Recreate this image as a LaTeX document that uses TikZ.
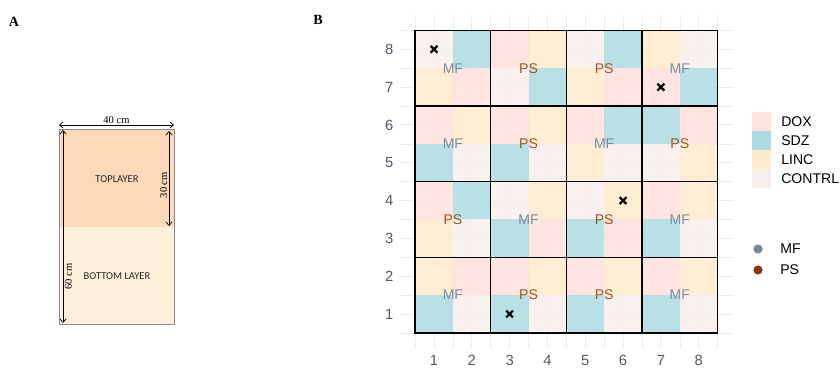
\documentclass[tikz,border=0pt]{standalone}
\usepackage{fontspec}
\setmainfont{Liberation Serif}
\newfontfamily\plotfont{Liberation Sans}
\newfontfamily\layerfont{Carlito}
\usetikzlibrary{arrows.meta, positioning, calc}
\definecolor{dox}{HTML}{FFE1DD}
\definecolor{sdz}{HTML}{ADDBE1}
\definecolor{linc}{HTML}{FFEBCD}
\definecolor{contrl}{HTML}{F8EFED}
\definecolor{toplayer}{HTML}{FDD9BA}
\definecolor{bottomlayer}{HTML}{FFF0DC}
\definecolor{mfcol}{HTML}{7B8D9E}
\definecolor{pscol}{HTML}{A5521E}
\definecolor{mfdot}{HTML}{778899}
\definecolor{psdot}{HTML}{8B3510}
\definecolor{axiscol}{HTML}{4F5A68}
\definecolor{gridcol}{HTML}{EBEBEB}
\tikzset{
  panel tag/.style={
    font=\bfseries\fontsize{10}{12}\selectfont, inner sep=0pt
  },
  box edge/.style={
    draw=black!45, line width=0.5pt
  },
  dim arrow/.style={
    {Straight Barb[length=2.6pt, width=4.5pt]}-{Straight Barb[length=2.6pt, width=4.5pt]},
    line width=0.5pt, draw=black
  },
  dim label/.style={
    font=\fontsize{7.5}{9}\selectfont, inner sep=1pt
  },
  layer label/.style={
    font=\layerfont\fontsize{7.5}{9}\selectfont, text=black!85
  },
  plot cell/.style={
    fill opacity=0.85
  },
  plot block/.style={
    draw=black, line width=0.9pt
  },
  grid major/.style={
    draw=gridcol, line width=0.7pt
  },
  grid minor/.style={
    draw=gridcol, line width=0.35pt
  },
  plot label/.style={
    font=\plotfont\fontsize{10}{12}\selectfont, inner sep=0pt
  },
  axis label/.style={
    font=\plotfont\fontsize{10.5}{12}\selectfont, text=axiscol, inner sep=1pt
  },
  cross mark/.style={
    draw=black, line width=1.6pt
  },
  legend key/.style={
    minimum size=19*0.025cm, inner sep=0pt, outer sep=0pt
  },
  legend text/.style={
    font=\plotfont\fontsize{10}{12}\selectfont, anchor=west, inner sep=0pt
  }
}

\begin{document}
\begin{tikzpicture}[x=0.025cm, y=-0.025cm]
  \useasboundingbox (0,0) rectangle (840,368);

  % panel A: the box with two layers
  \node (tag a) [panel tag] at (14,22) {A};
  \fill[toplayer] (59,129) rectangle (174,227);
  \fill[bottomlayer] (59,227) rectangle (174,324);
  \draw[box edge] (59,129) rectangle (174,324);
  \node (top layer) [layer label] at (117,179) {TOPLAYER};
  \node (bottom layer) [layer label] at (117,276) {BOTTOM LAYER};

  \coordinate (width left) at (59,125);
  \coordinate (width right) at (174,125);
  \coordinate (top a) at (169,131);
  \coordinate (top b) at (169,226);
  \coordinate (depth a) at (63,130);
  \coordinate (depth b) at (63,323);
  \draw[dim arrow] (width left) -- node[dim label, above] {40 cm} (width right);
  \draw[dim arrow] (top a) -- node[dim label, rotate=90, anchor=south, pos=0.57] {30 cm} (top b);
  \draw[dim arrow] (depth a) -- node[dim label, rotate=90, anchor=north, pos=0.76] {60 cm} (depth b);

  % panel B: the plot of the 8 x 8 field
  \node (tag b) [panel tag] at (318,20) {B};
  \begin{scope}[shift={(396.2,351.8)}, x=0.945cm, y=0.945cm]
    \foreach \g in {1,...,8} {
      \draw[grid major] (\g,0.1) -- (\g,8.9);
      \draw[grid major] (0.1,\g) -- (8.9,\g);
    }
    \foreach \g in {0.5,1.5,...,8.5} {
      \draw[grid minor] (\g,0.1) -- (\g,8.9);
      \draw[grid minor] (0.1,\g) -- (8.9,\g);
    }
    \foreach \cy/\row in {
      8/{contrl,sdz,dox,linc,contrl,sdz,linc,contrl},
      7/{linc,dox,contrl,sdz,linc,dox,dox,sdz},
      6/{dox,linc,dox,linc,dox,sdz,sdz,dox},
      5/{sdz,contrl,sdz,contrl,linc,contrl,contrl,linc},
      4/{dox,sdz,contrl,linc,contrl,linc,dox,linc},
      3/{linc,contrl,sdz,dox,sdz,dox,sdz,contrl},
      2/{linc,dox,dox,linc,dox,linc,dox,linc},
      1/{sdz,contrl,sdz,contrl,sdz,contrl,sdz,contrl}} {
      \foreach \cc [count=\cx] in \row
        \fill[plot cell, \cc] (\cx-0.5,\cy-0.5) rectangle ++(1,1);
    }
    \foreach \bx in {0.5,2.5,4.5,6.5}
      \foreach \by in {0.5,2.5,4.5,6.5}
        \draw[plot block] (\bx,\by) rectangle ++(2,2);

    % plot labels
    \foreach \lx/\ly/\lt/\lc in {1.5/7.5/MF/mfcol, 3.5/7.5/PS/pscol, 5.5/7.5/PS/pscol, 7.5/7.5/MF/mfcol,
                                 1.5/5.5/MF/mfcol, 3.5/5.5/PS/pscol, 5.5/5.5/MF/mfcol, 7.5/5.5/PS/pscol,
                                 1.5/3.5/PS/pscol, 3.5/3.5/MF/mfcol, 5.5/3.5/PS/pscol, 7.5/3.5/MF/mfcol,
                                 1.5/1.5/MF/mfcol, 3.5/1.5/PS/pscol, 5.5/1.5/PS/pscol, 7.5/1.5/MF/mfcol}
      \node (lab-\lx-\ly) [plot label, text=\lc] at (\lx,\ly) {\lt};

    % sampled points
    \foreach \px/\py in {1/8, 7/7, 6/4, 3/1} {
      \draw[cross mark] (\px-0.09,\py-0.09) -- (\px+0.09,\py+0.09);
      \draw[cross mark] (\px-0.09,\py+0.09) -- (\px+0.09,\py-0.09);
    }

    % axes
    \foreach \t in {1,...,8} {
      \node (xtick-\t) [axis label, anchor=north] at (\t,-0.05) {\t};
      \node (ytick-\t) [axis label, anchor=east] at (-0.03,\t) {\t};
    }
  \end{scope}

  % legend
  \node (key dox) [legend key, fill=dox, anchor=north west] at (752,112) {};
  \node (key sdz) [legend key, fill=sdz, below=0pt of key dox] {};
  \node (key linc) [legend key, fill=linc, below=0pt of key sdz] {};
  \node (key contrl) [legend key, fill=contrl, below=0pt of key linc] {};
  \node (txt dox) [legend text] at ($(key dox.east)+(10,0)$) {DOX};
  \node (txt sdz) [legend text] at ($(key sdz.east)+(10,0)$) {SDZ};
  \node (txt linc) [legend text] at ($(key linc.east)+(10,0)$) {LINC};
  \node (txt contrl) [legend text] at ($(key contrl.east)+(10,0)$) {CONTRL};

  \fill[mfdot] (758,249) circle (4.6);
  \fill[psdot] (758,270) circle (4.6);
  \node (txt mf) [legend text] at (780,249) {MF};
  \node (txt ps) [legend text] at (780,270) {PS};
\end{tikzpicture}
\end{document}
